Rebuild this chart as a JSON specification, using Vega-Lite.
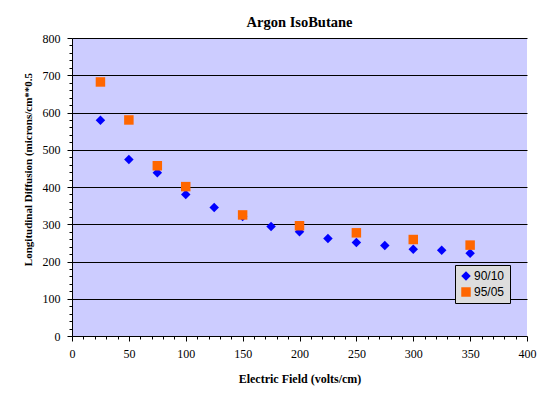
{
  "$schema": "https://vega.github.io/schema/vega-lite/v6.json",
  "width": 455,
  "height": 298,
  "autosize": {"type": "none"},
  "padding": {"left": 72, "top": 38, "right": 30, "bottom": 62},
  "background": "white",
  "title": {"text": "Argon IsoButane", "font": "Liberation Serif", "fontSize": 14.5, "fontWeight": "bold", "color": "black", "offset": 2},
  "config": {
    "view": {"fill": "#CCCCFF", "stroke": null},
    "axis": {"labelFont": "Liberation Serif", "labelFontSize": 12, "labelColor": "black", "titleFont": "Liberation Serif", "titleFontSize": 11, "titleFontWeight": "bold", "titleColor": "black", "domainColor": "black", "tickColor": "black"}
  },
  "data": {"values": [
    {"field": 25, "diff": 579, "mix": "90/10"},
    {"field": 50, "diff": 474, "mix": "90/10"},
    {"field": 75, "diff": 438, "mix": "90/10"},
    {"field": 100, "diff": 380, "mix": "90/10"},
    {"field": 125, "diff": 345, "mix": "90/10"},
    {"field": 150, "diff": 321, "mix": "90/10"},
    {"field": 175, "diff": 294, "mix": "90/10"},
    {"field": 200, "diff": 280, "mix": "90/10"},
    {"field": 225, "diff": 262, "mix": "90/10"},
    {"field": 250, "diff": 251, "mix": "90/10"},
    {"field": 275, "diff": 243, "mix": "90/10"},
    {"field": 300, "diff": 233, "mix": "90/10"},
    {"field": 325, "diff": 230, "mix": "90/10"},
    {"field": 350, "diff": 222, "mix": "90/10"},
    {"field": 25, "diff": 682, "mix": "95/05"},
    {"field": 50, "diff": 580, "mix": "95/05"},
    {"field": 75, "diff": 457, "mix": "95/05"},
    {"field": 100, "diff": 401, "mix": "95/05"},
    {"field": 150, "diff": 325, "mix": "95/05"},
    {"field": 200, "diff": 296, "mix": "95/05"},
    {"field": 250, "diff": 277, "mix": "95/05"},
    {"field": 300, "diff": 259, "mix": "95/05"},
    {"field": 350, "diff": 244, "mix": "95/05"}
  ]},
  "mark": {"type": "point", "filled": true, "opacity": 1, "size": 90},
  "encoding": {
    "x": {"field": "field", "type": "quantitative", "title": "Electric Field (volts/cm)",
      "scale": {"domain": [0, 400], "nice": false},
      "axis": {"values": [0,10,20,30,40,50,60,70,80,90,100,110,120,130,140,150,160,170,180,190,200,210,220,230,240,250,260,270,280,290,300,310,320,330,340,350,360,370,380,390,400],
        "labelExpr": "datum.value % 50 === 0 ? datum.label : ''",
        "grid": false, "tickSize": {"condition": {"test": "datum.value % 50 === 0", "value": 5}, "value": 3},
        "labelPadding": 7, "titlePadding": 14, "titleFontSize": 12, "labelFlush": false}},
    "y": {"field": "diff", "type": "quantitative", "title": "Longitudinal Diffusion (microns/cm**0.5",
      "scale": {"domain": [0, 800], "nice": false},
      "axis": {"values": [0,20,40,60,80,100,120,140,160,180,200,220,240,260,280,300,320,340,360,380,400,420,440,460,480,500,520,540,560,580,600,620,640,660,680,700,720,740,760,780,800],
        "labelExpr": "datum.value % 100 === 0 ? datum.label : ''",
        "grid": true,
        "gridColor": {"condition": {"test": "datum.value % 100 === 0 && datum.value > 0", "value": "black"}, "value": null},
        "gridOpacity": {"condition": {"test": "datum.value % 100 === 0 && datum.value > 0", "value": 1}, "value": 0},
        "tickSize": {"condition": {"test": "datum.value % 100 === 0", "value": 5}, "value": 3},
        "labelPadding": 7, "titlePadding": 9, "titleY": 131, "labelFlush": false}},
    "shape": {"field": "mix", "type": "nominal", "scale": {"domain": ["90/10", "95/05"], "range": ["diamond", "square"]},
      "legend": {"title": null, "orient": "none", "legendX": 383, "legendY": 227, "fillColor": "#DDDDDD", "strokeColor": "black", "padding": 5, "labelFont": "Liberation Sans", "labelFontSize": 12, "labelColor": "black", "symbolSize": 90, "symbolStrokeWidth": 0, "rowPadding": 4, "labelOffset": 2}},
    "color": {"field": "mix", "type": "nominal", "scale": {"domain": ["90/10", "95/05"], "range": ["#0000FF", "#FF6600"]},
      "legend": {"title": null, "orient": "none", "legendX": 383, "legendY": 227, "fillColor": "#DDDDDD", "strokeColor": "black", "padding": 5, "labelFont": "Liberation Sans", "labelFontSize": 12, "labelColor": "black", "symbolSize": 90, "symbolStrokeWidth": 0, "rowPadding": 4, "labelOffset": 2}}
  }
}
